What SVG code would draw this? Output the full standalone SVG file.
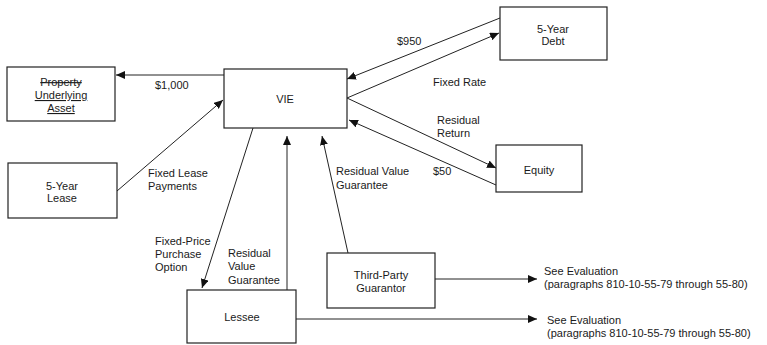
<svg xmlns="http://www.w3.org/2000/svg" width="767" height="345" viewBox="0 0 767 345">
  <style>
    .box { fill: #ffffff; stroke: #222222; stroke-width: 1.2; }
    .edge { fill: none; stroke: #222222; stroke-width: 1; }
    text { font-family: "Liberation Sans", Arial, sans-serif; font-size: 11px; fill: #1a1a1a; }
    .c { text-anchor: middle; }
  </style>
  <defs>
    <marker id="arrow" markerUnits="userSpaceOnUse" markerWidth="9" markerHeight="8" refX="9" refY="4" orient="auto">
      <path d="M0,0 L9,4 L0,8 z" fill="#111111"/>
    </marker>
  </defs>

  <rect width="767" height="345" fill="#ffffff"/>

  <!-- Connectors -->
  <g id="connectors">
    <line class="edge" x1="224" y1="75" x2="116" y2="75" marker-end="url(#arrow)"/>
    <line class="edge" x1="117" y1="191" x2="223" y2="100" marker-end="url(#arrow)"/>
    <line class="edge" x1="500" y1="18" x2="347" y2="79" marker-end="url(#arrow)"/>
    <line class="edge" x1="347" y1="98" x2="499" y2="33" marker-end="url(#arrow)"/>
    <line class="edge" x1="347" y1="98" x2="496" y2="168" marker-end="url(#arrow)"/>
    <line class="edge" x1="496" y1="185" x2="349" y2="120" marker-end="url(#arrow)"/>
    <line class="edge" x1="253" y1="128" x2="202" y2="288" marker-end="url(#arrow)"/>
    <line class="edge" x1="287" y1="290" x2="287" y2="136" marker-end="url(#arrow)"/>
    <line class="edge" x1="348" y1="253" x2="322" y2="136" marker-end="url(#arrow)"/>
    <line class="edge" x1="435" y1="279" x2="537" y2="279" marker-end="url(#arrow)"/>
    <line class="edge" x1="296" y1="319" x2="537" y2="319" marker-end="url(#arrow)"/>
  </g>

  <!-- Connector labels -->
  <g id="labels">
    <text x="155" y="89">$1,000</text>
    <text x="397" y="45">$950</text>
    <text x="433" y="86">Fixed Rate</text>
    <text x="437" y="124">Residual</text>
    <text x="437" y="137">Return</text>
    <text x="433" y="175">$50</text>
    <text x="336" y="175">Residual Value</text>
    <text x="336" y="189">Guarantee</text>
    <text x="148" y="177">Fixed Lease</text>
    <text x="148" y="190">Payments</text>
    <text x="155" y="245">Fixed-Price</text>
    <text x="155" y="258">Purchase</text>
    <text x="155" y="271">Option</text>
    <text x="228" y="257">Residual</text>
    <text x="228" y="270">Value</text>
    <text x="228" y="284">Guarantee</text>
    <text x="544" y="275">See Evaluation</text>
    <text x="544" y="288">(paragraphs 810-10-55-79 through 55-80)</text>
    <text x="547" y="324">See Evaluation</text>
    <text x="547" y="337">(paragraphs 810-10-55-79 through 55-80)</text>
  </g>

  <!-- Nodes -->
  <g id="property">
    <rect class="box" x="7" y="67" width="108" height="54"/>
    <text class="c" x="61" y="86" style="text-decoration: line-through;">Property</text>
    <text class="c" x="61" y="99" style="text-decoration: underline;">Underlying</text>
    <text class="c" x="61" y="112" style="text-decoration: underline;">Asset</text>
  </g>

  <g id="vie">
    <rect class="box" x="224" y="69" width="123" height="59"/>
    <text class="c" x="285" y="103">VIE</text>
  </g>

  <g id="debt">
    <rect class="box" x="500" y="7" width="107" height="53"/>
    <text class="c" x="553" y="33">5-Year</text>
    <text class="c" x="553" y="45">Debt</text>
  </g>

  <g id="equity">
    <rect class="box" x="496" y="145" width="86" height="47"/>
    <text class="c" x="539" y="174">Equity</text>
  </g>

  <g id="lease">
    <rect class="box" x="8" y="163" width="109" height="55"/>
    <text class="c" x="62" y="190">5-Year</text>
    <text class="c" x="62" y="202">Lease</text>
  </g>

  <g id="lessee">
    <rect class="box" x="187" y="290" width="109" height="53"/>
    <text class="c" x="242" y="321">Lessee</text>
  </g>

  <g id="guarantor">
    <rect class="box" x="327" y="253" width="108" height="55"/>
    <text class="c" x="381" y="279">Third-Party</text>
    <text class="c" x="381" y="292">Guarantor</text>
  </g>
</svg>
